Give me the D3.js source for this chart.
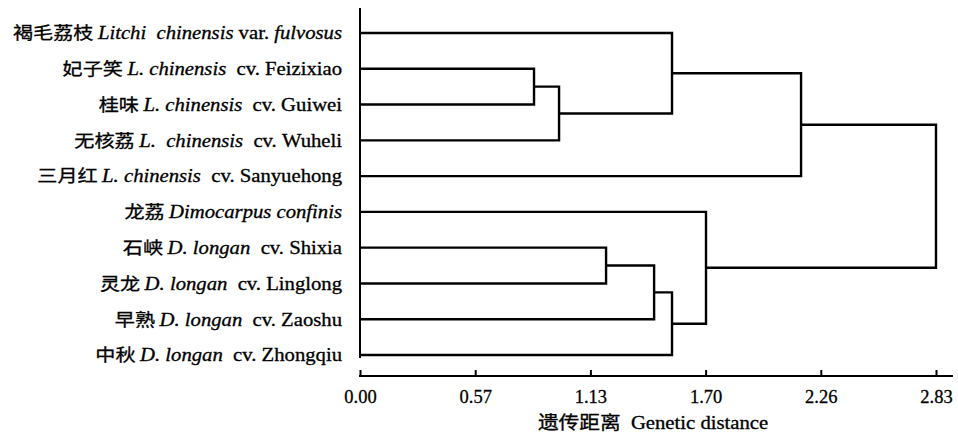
<!DOCTYPE html>
<html>
<head>
<meta charset="utf-8">
<script src="https://cdn.jsdelivr.net/npm/d3@7/dist/d3.min.js"></script>
<style>
  html, body { margin: 0; padding: 0; background: #fff; }
  svg { display: block; }
  text { font-family: "Liberation Serif", "Times New Roman", "Noto Sans CJK SC", serif; fill: #000; }
</style>
</head>
<body>
<svg id="chart" width="958" height="435"></svg>
<script>
// ---- data ----
const leafChinese = ["褐毛荔枝", "妃子笑", "桂味", "无核荔", "三月红", "龙荔", "石峡", "灵龙", "早熟", "中秋"];
const leafSpecies = ["Litchi  chinensis", "L. chinensis", "L. chinensis", "L.  chinensis", "L. chinensis",
                     "Dimocarpus confinis", "D. longan", "D. longan", "D. longan", "D. longan"];
const leafRank = [" var. ", "  cv. ", "  cv. ", "  cv. ", "  cv. ", "", "  cv. ", "  cv. ", "  cv. ", "  cv. "];
const leafCultivar = ["fulvosus", "Feizixiao", "Guiwei", "Wuheli", "Sanyuehong", "", "Shixia", "Linglong", "Zaoshu", "Zhongqiu"];
const cultivarItalic = [true, false, false, false, false, false, false, false, false, false];

// merges (linkage): child A, child B, genetic distance; new cluster id = 10 + row index
const mergeA = [1, 10, 0, 12, 6, 14, 15, 5, 13];
const mergeB = [2, 3, 11, 4, 7, 8, 9, 16, 17];
const mergeHeight = [0.855, 0.978, 1.533, 2.167, 1.209, 1.445, 1.533, 1.70, 2.83];

const tickValues = [0, 0.566, 1.132, 1.698, 2.264, 2.83];
const tickLabels = ["0.00", "0.57", "1.13", "1.70", "2.26", "2.83"];
const axisTitle = "遗传距离  Genetic distance";

// ---- layout ----
const svg = d3.select("#chart");
const nLeaves = leafChinese.length;
const x = d3.scaleLinear().domain([0, 2.83]).range([360, 936]);
const y = d3.scalePoint().domain(d3.range(nLeaves)).range([33, 355]);

const nodeY = {}, nodeH = {};
for (let i = 0; i < nLeaves; i++) { nodeY[i] = y(i); nodeH[i] = 0; }
mergeA.forEach((a, k) => {
  const id = nLeaves + k, b = mergeB[k];
  nodeY[id] = (nodeY[a] + nodeY[b]) / 2;
  nodeH[id] = mergeHeight[k];
});

const lineColor = "#000";
const sw = 2.4;
const stretch = 1.15;

svg.append("line")
  .attr("x1", x(0)).attr("x2", x(0))
  .attr("y1", y(0) - 25).attr("y2", y(nLeaves - 1) + 3)
  .attr("stroke", lineColor).attr("stroke-width", 2);

const g = svg.append("g");
mergeA.forEach((a, k) => {
  const b = mergeB[k], h = mergeHeight[k];
  const p = d3.path();
  p.moveTo(x(nodeH[a]), nodeY[a]);
  p.lineTo(x(h), nodeY[a]);
  p.lineTo(x(h), nodeY[b]);
  p.lineTo(x(nodeH[b]), nodeY[b]);
  g.append("path").attr("d", p.toString())
    .attr("fill", "none").attr("stroke", lineColor)
    .attr("stroke-width", sw).attr("stroke-linejoin", "miter");
});

const lab = svg.append("g");
for (let i = 0; i < nLeaves; i++) {
  const t = lab.append("text")
    .attr("transform", `translate(342,${y(i)}) scale(${stretch},1)`)
    .attr("dy", "0.35em")
    .attr("text-anchor", "end").attr("font-size", 18)
    .attr("stroke", "#000").attr("stroke-width", 0.3)
    .style("white-space", "pre");
  t.append("tspan").text(leafChinese[i] + " ")
    .style("font-family", "'Noto Sans CJK SC', sans-serif").attr("font-size", 17.5);
  t.append("tspan").text(leafSpecies[i]).attr("font-style", "italic");
  if (leafRank[i]) t.append("tspan").text(leafRank[i]);
  if (leafCultivar[i]) t.append("tspan").text(leafCultivar[i])
    .attr("font-style", cultivarItalic[i] ? "italic" : "normal");
}

const axisY = 376;
svg.append("line")
  .attr("x1", x(0) - 1).attr("x2", 953)
  .attr("y1", axisY).attr("y2", axisY)
  .attr("stroke", lineColor).attr("stroke-width", 2);

const axis = d3.axisBottom(x)
  .tickValues(tickValues)
  .tickFormat((d, i) => tickLabels[i])
  .tickSizeInner(-6).tickSizeOuter(0).tickPadding(14);
const ag = svg.append("g").attr("transform", `translate(0,${axisY})`).call(axis);
ag.select(".domain").remove();
ag.selectAll(".tick line").attr("stroke", lineColor).attr("stroke-width", 2);
ag.selectAll(".tick text")
  .attr("font-size", 18.5)
  .attr("stroke", "#000").attr("stroke-width", 0.3)
  .style("font-family", "'Liberation Serif', 'Times New Roman', serif")
  .attr("fill", "#000");

svg.append("text")
  .attr("transform", `translate(653,429) scale(${stretch},1)`)
  .attr("text-anchor", "middle").attr("font-size", 18)
  .attr("stroke", "#000").attr("stroke-width", 0.3)
  .style("white-space", "pre")
  .text(axisTitle);
</script>
</body>
</html>
